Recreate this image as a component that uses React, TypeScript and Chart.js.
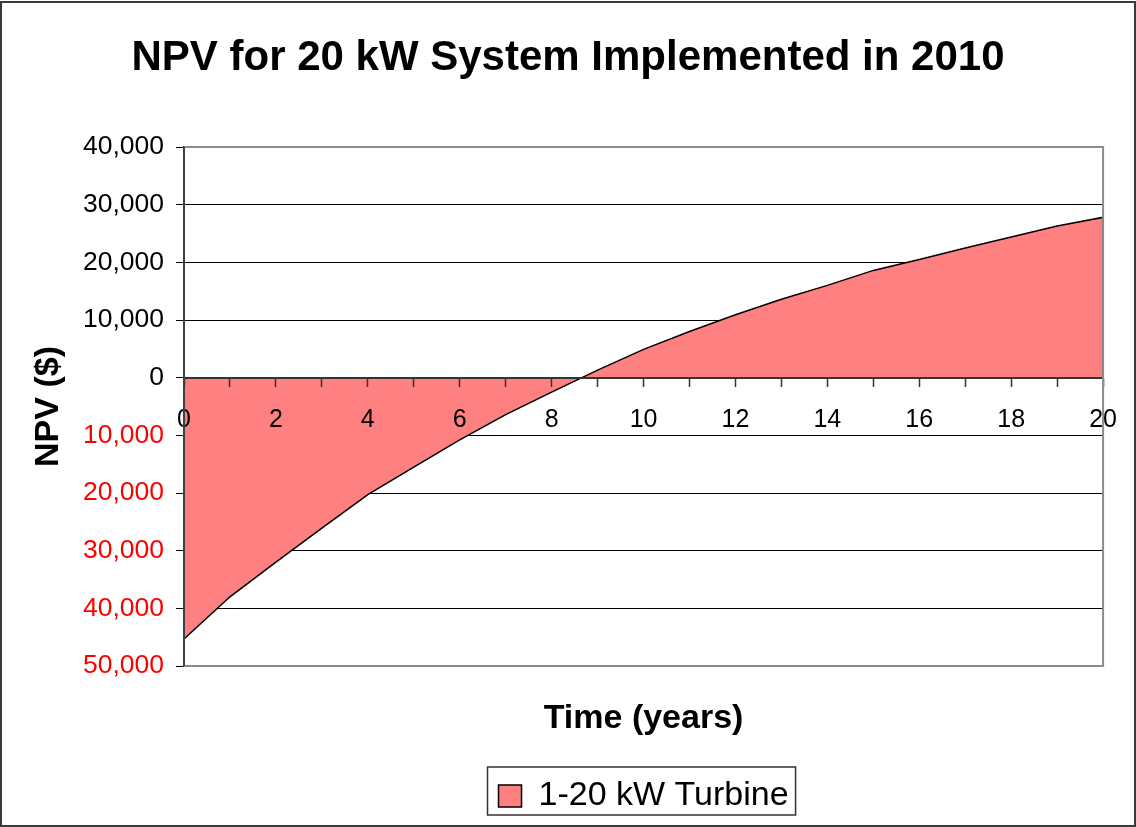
import React, { useEffect, useRef } from "react";
import { Chart, registerables } from "chart.js";

Chart.register(...registerables);

const chartTitle = "NPV for 20 kW System Implemented in 2010";
const xTitle = "Time (years)";
const yTitle = "NPV ($)";
const seriesName = "1-20 kW Turbine";

const years = [0, 1, 2, 3, 4, 5, 6, 7, 8, 9, 10, 11, 12, 13, 14, 15, 16, 17, 18, 19, 20];
const npv = [
  -45300, -38000, -32000, -26100, -20300, -15500, -10800, -6400, -2500, 1300,
  4900, 8000, 10900, 13600, 16000, 18600, 20500, 22500, 24400, 26300, 27800,
];

const yMin = -50000;
const yMax = 40000;
const yStep = 10000;
const xMin = 0;
const xMax = 20;

const FONT = "Arial, 'Liberation Sans', sans-serif";
const FILL = "#FF8080";

const decorPlugin = {
  id: "decor",
  afterDraw(chart: any) {
    const { ctx, chartArea } = chart;
    ctx.save();
    const meta = chart.getDatasetMeta(0);
    const last = meta.data[meta.data.length - 1];
    const y0 = chart.scales.y.getPixelForValue(0);
    if (last) {
      ctx.strokeStyle = "#000";
      ctx.lineWidth = 1.5;
      ctx.beginPath();
      ctx.moveTo(last.x, last.y);
      ctx.lineTo(last.x, y0);
      ctx.stroke();
    }
    ctx.strokeStyle = "#8c8c8c";
    ctx.lineWidth = 2;
    ctx.beginPath();
    ctx.moveTo(chartArea.left, chartArea.top);
    ctx.lineTo(chartArea.right, chartArea.top);
    ctx.lineTo(chartArea.right, chartArea.bottom);
    ctx.lineTo(chartArea.left, chartArea.bottom);
    ctx.stroke();
    ctx.strokeStyle = "#404040";
    ctx.lineWidth = 2;
    ctx.beginPath();
    ctx.moveTo(chartArea.left, chartArea.top);
    ctx.lineTo(chartArea.left, chartArea.bottom);
    ctx.stroke();
    const lg = chart.legend;
    if (lg && lg.legendHitBoxes && lg.legendHitBoxes.length) {
      const hb = lg.legendHitBoxes[0];
      ctx.strokeStyle = "#333";
      ctx.lineWidth = 1.5;
      ctx.strokeRect(hb.left - 11, hb.top - 12, hb.width + 18, hb.height + 14);
    }
    ctx.strokeStyle = "#3a3a3a";
    ctx.lineWidth = 2;
    ctx.strokeRect(1, 2, chart.width - 2, chart.height - 3);
    ctx.restore();
  },
};

export default function App() {
  const ref = useRef<HTMLCanvasElement | null>(null);

  useEffect(() => {
    if (!ref.current) return;
    const chart = new Chart(ref.current, {
      type: "line",
      data: {
        datasets: [
          {
            label: seriesName,
            data: years.map((t, i) => ({ x: t, y: npv[i] })),
            borderColor: "#000",
            borderWidth: 1.5,
            backgroundColor: FILL,
            fill: "origin",
            pointRadius: 0,
            tension: 0,
          },
        ],
      },
      options: {
        responsive: false,
        animation: false,
        layout: { padding: { left: 0, right: 0, top: 0, bottom: 4 } },
        plugins: {
          title: {
            display: true,
            text: chartTitle,
            color: "#000",
            font: { family: FONT, size: 42, weight: "bold" },
            padding: { top: 33, bottom: 63.6 },
          },
          legend: {
            display: true,
            position: "bottom",
            fullSize: false,
            labels: {
              color: "#000",
              font: { family: FONT, size: 34 },
              boxWidth: 23,
              boxHeight: 22,
              padding: 10,
            },
          },
          tooltip: { enabled: false },
        },
        scales: {
          x: {
            type: "linear",
            position: { y: 0 },
            min: xMin,
            max: xMax,
            ticks: {
              stepSize: 1,
              autoSkip: false,
              color: "#000",
              font: { family: FONT, size: 25 },
              padding: 19,
              maxRotation: 0,
              z: 1,
              callback: (v: any) => (Number(v) % 2 === 0 ? String(v) : ""),
            },
            grid: {
              drawOnChartArea: false,
              drawTicks: true,
              tickLength: 8,
              tickColor: "#333",
              tickWidth: 1.5,
              z: 1,
            },
            border: { display: true, color: "#333", width: 2, z: 1 },
          },
          x2: {
            type: "linear",
            position: "bottom",
            display: true,
            ticks: { display: false },
            grid: { display: false, drawTicks: false },
            border: { display: false },
            title: {
              display: true,
              text: xTitle,
              color: "#000",
              font: { family: FONT, size: 34, weight: "bold" },
              padding: { top: 0, bottom: 30 },
            },
            afterFit: (scale: any) => {
              scale.height = 103;
            },
          },
          y: {
            type: "linear",
            min: yMin,
            max: yMax,
            ticks: {
              stepSize: yStep,
              font: { family: FONT, size: 26.5 },
              padding: 12,
              color: (c: any) => (c.tick && c.tick.value < 0 ? "#FF0000" : "#000"),
              callback: (v: any) => Math.abs(Number(v)).toLocaleString("en-US"),
            },
            grid: {
              color: (c: any) =>
                c.tick && (c.tick.value === yMax || c.tick.value === yMin) ? "#8c8c8c" : "#000",
              lineWidth: 1,
              tickLength: 8,
              tickColor: "#000",
            },
            border: { display: true, color: "#404040", width: 2, z: 1 },
            title: {
              display: true,
              text: yTitle,
              color: "#000",
              font: { family: FONT, size: 34, weight: "bold" },
              padding: { top: 28, bottom: 0 },
            },
            afterFit: (scale: any) => {
              scale.width = 184;
            },
          },
          yRight: {
            type: "linear",
            position: "right",
            display: true,
            ticks: { display: false },
            grid: { display: false, drawTicks: false },
            border: { display: false },
            afterFit: (scale: any) => {
              scale.width = 32;
            },
          },
        },
      },
      plugins: [decorPlugin],
    } as any);
    return () => chart.destroy();
  }, []);

  return (
    <div style={{ position: "absolute", left: 0, top: 0, width: 1136, height: 827, background: "#fff" }}>
      <canvas ref={ref} width={1136} height={827} style={{ display: "block" }} />
    </div>
  );
}
